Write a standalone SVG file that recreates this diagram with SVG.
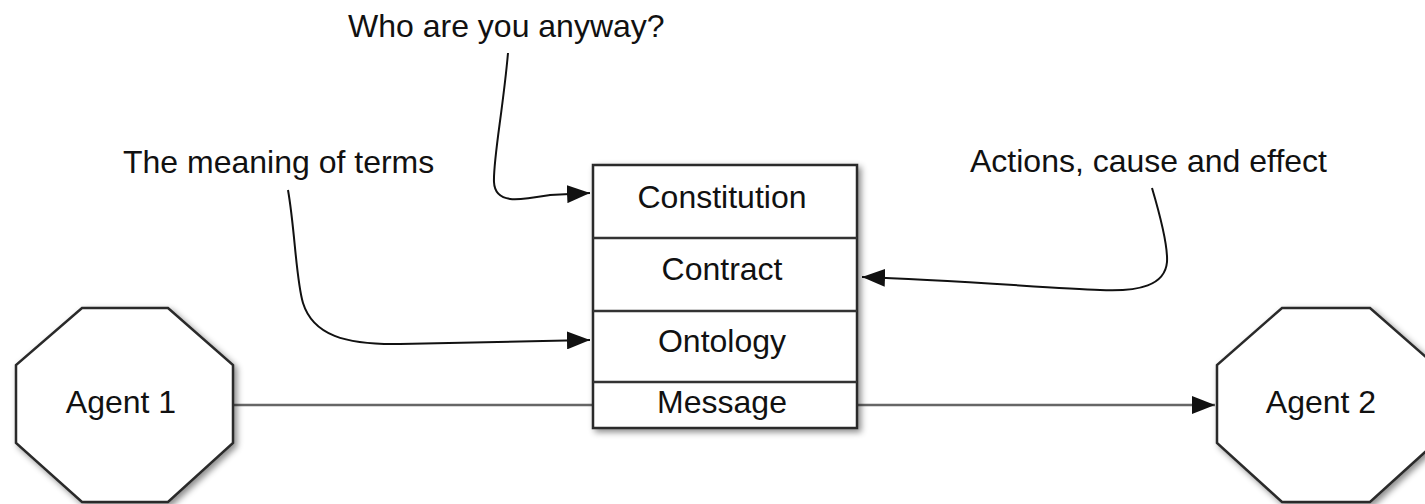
<svg xmlns="http://www.w3.org/2000/svg" width="1425" height="504" viewBox="0 0 1425 504">
<style>
  text { font-family: "Liberation Sans", Arial, Helvetica, sans-serif; font-size: 32px; fill: #111; }
  .c { text-anchor: middle; }
  .shape { fill: #fff; stroke: #2a2a2a; stroke-width: 2.5; }
  .div { stroke: #333; stroke-width: 2.5; fill: none; }
  .curve { fill: none; stroke: #111; stroke-width: 2; }
  .main { fill: none; stroke: #666; stroke-width: 2.5; }
</style>
<defs>
  <filter id="sh" x="-10%" y="-10%" width="130%" height="130%">
    <feDropShadow dx="3" dy="3" stdDeviation="3" flood-color="#000" flood-opacity="0.45"/>
  </filter>
  <marker id="arr" markerUnits="userSpaceOnUse" markerWidth="23" markerHeight="18" refX="23" refY="9" orient="auto">
    <path d="M0,0 L23,9 L0,18 z" fill="#111"/>
  </marker>
</defs>

<g id="connectors">
  <path class="main" d="M234,405 L1215,405" marker-end="url(#arr)"/>
  <path class="curve" d="M508,53 C503,110 493,160 494,182 C495,205 520,200 550,195 L590,193" marker-end="url(#arr)"/>
  <path class="curve" d="M288,190 C295,230 296,280 303,303 C313,335 345,345 400,344 C470,343 530,341 590,340" marker-end="url(#arr)"/>
  <path class="curve" d="M1152,188 C1160,215 1168,245 1167,262 C1165,285 1140,292 1100,290 C1050,288 950,280 862,277" marker-end="url(#arr)"/>
</g>

<g id="agent1">
  <polygon class="shape" filter="url(#sh)" points="82,308 168,308 233,365 233,443 168,502 82,502 16,443 16,365"/>
  <text class="c" x="121" y="413">Agent 1</text>
</g>

<g id="agent2">
  <polygon class="shape" filter="url(#sh)" points="1282,308 1370,308 1435,365 1435,443 1370,502 1282,502 1217,443 1217,365"/>
  <text class="c" x="1321" y="413">Agent 2</text>
</g>

<g id="stack">
  <rect class="shape" filter="url(#sh)" x="593" y="165" width="264" height="263"/>
  <line class="div" x1="593" y1="238" x2="857" y2="238"/>
  <line class="div" x1="593" y1="311" x2="857" y2="311"/>
  <line class="div" x1="593" y1="382" x2="857" y2="382"/>
  <text class="c" x="722" y="208">Constitution</text>
  <text class="c" x="722" y="280">Contract</text>
  <text class="c" x="722" y="352">Ontology</text>
  <text class="c" x="722" y="413">Message</text>
</g>

<g id="label-who">
  <text x="348" y="37">Who are you anyway?</text>
</g>
<g id="label-meaning">
  <text x="123" y="173">The meaning of terms</text>
</g>
<g id="label-actions">
  <text x="970" y="172">Actions, cause and effect</text>
</g>
</svg>
